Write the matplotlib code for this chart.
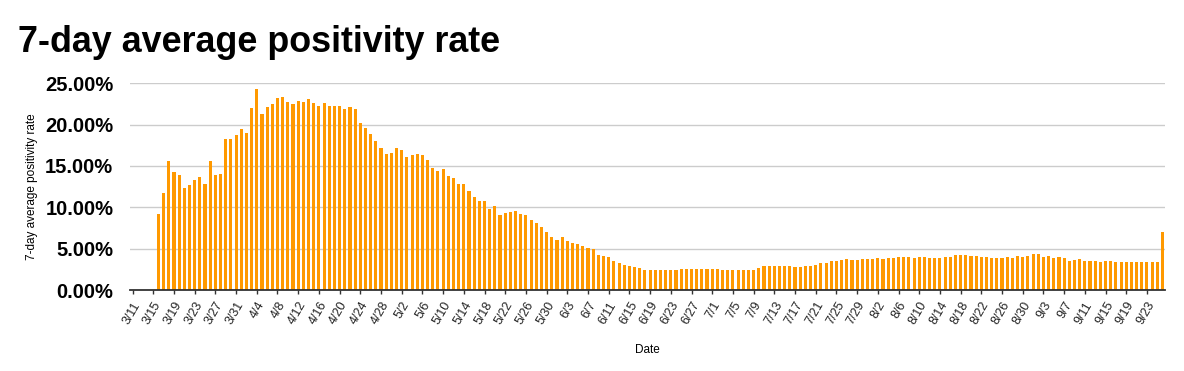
import matplotlib
matplotlib.use("Agg")
import matplotlib.pyplot as plt
import numpy as np
import pandas as pd

plt.rcParams.update({"font.family": ["Liberation Sans", "DejaVu Sans"]})

# axis runs 3/11 .. 9/26, data starts 3/16
axis_dates = pd.date_range("2020-03-11", "2020-09-26", freq="D")
first_data_day = "2020-03-16"

# 7-day average positivity rate (%), one value per day from 3/16 to 9/26
rate = [
    9.15, 11.77, 15.56, 14.23, 13.95, 12.30, 12.66, 13.27, 13.63, 12.78,
    15.56, 13.95, 14.07, 18.23, 18.23, 18.71, 19.44, 18.95, 22.06, 24.27,
    21.25, 22.10, 22.46, 23.19, 23.31, 22.70, 22.46, 22.82, 22.70, 23.06,
    22.58, 22.22, 22.58, 22.22, 22.22, 22.22, 21.94, 22.10, 21.85, 20.16,
    19.56, 18.83, 17.98, 17.14, 16.41, 16.53, 17.14, 16.90, 16.05, 16.29,
    16.41, 16.29, 15.69, 14.72, 14.35, 14.60, 13.75, 13.51, 12.78, 12.78,
    11.94, 11.21, 10.73, 10.81, 9.84, 10.12, 9.11, 9.35, 9.48, 9.60,
    9.23, 9.11, 8.51, 8.15, 7.66, 7.06, 6.41, 6.09, 6.45, 5.97,
    5.73, 5.60, 5.36, 5.12, 5.00, 4.27, 4.15, 4.03, 3.55, 3.31,
    3.06, 2.94, 2.82, 2.70, 2.46, 2.46, 2.48, 2.36, 2.36, 2.36,
    2.48, 2.60, 2.60, 2.60, 2.60, 2.60, 2.60, 2.60, 2.60, 2.48,
    2.48, 2.48, 2.48, 2.48, 2.48, 2.48, 2.72, 2.96, 2.96, 2.96,
    2.96, 2.96, 2.96, 2.84, 2.84, 2.96, 2.96, 3.08, 3.32, 3.32,
    3.56, 3.56, 3.68, 3.80, 3.68, 3.68, 3.80, 3.80, 3.80, 3.92,
    3.80, 3.92, 3.92, 4.04, 4.04, 4.04, 3.92, 4.04, 4.04, 3.92,
    3.92, 3.92, 4.04, 4.04, 4.28, 4.28, 4.28, 4.16, 4.16, 4.04,
    4.04, 3.92, 3.92, 3.92, 4.04, 3.92, 4.16, 4.04, 4.16, 4.40,
    4.40, 4.04, 4.16, 3.92, 4.04, 3.92, 3.56, 3.68, 3.80, 3.56,
    3.56, 3.56, 3.44, 3.56, 3.56, 3.44, 3.44, 3.44, 3.44, 3.44,
    3.44, 3.44, 3.44, 3.44, 7.04,
]

y_ticks = [0, 5, 10, 15, 20, 25]
tick_every = 4

start = axis_dates.get_loc(pd.Timestamp(first_data_day))
x = np.arange(start, start + len(rate))

fig = plt.figure(figsize=(11.84, 3.71), dpi=100)
ax = fig.add_axes([0.1098, 0.2183, 0.8742, 0.5572])

ax.bar(x, rate, width=0.6, color="#ff9900", zorder=3)

ax.set_xlim(-0.5, len(axis_dates) - 0.5)
ax.set_ylim(0, 25)
ax.set_yticks(y_ticks)
ax.set_yticklabels([f"{v:.2f}%" for v in y_ticks], fontsize=14.5, fontweight="bold")
ax.yaxis.grid(True, color="#cccccc", linewidth=1, zorder=0)
ax.tick_params(axis="y", length=0, pad=12)

tick_idx = np.arange(0, len(axis_dates), tick_every)
ax.set_xticks(tick_idx)
ax.set_xticklabels([f"{d.month}/{d.day}" for d in axis_dates[tick_idx]],
                   rotation=60, ha="right", rotation_mode="anchor", fontsize=9, color="#222222")
ax.tick_params(axis="x", length=3, width=1, color="#333333", pad=4)

for s in ["top", "right", "left"]:
    ax.spines[s].set_visible(False)
ax.spines["bottom"].set_color("#333333")
ax.spines["bottom"].set_linewidth(1.3)
ax.spines["bottom"].set_zorder(4)

ax.set_ylabel("7-day average positivity rate", fontsize=8.5, labelpad=5)
ax.set_xlabel("Date", fontsize=8.5, labelpad=12)

fig.text(0.015, 0.885, "7-day average positivity rate", fontsize=25.8, fontweight="bold", va="center")

fig.savefig("out.png", dpi=100)
